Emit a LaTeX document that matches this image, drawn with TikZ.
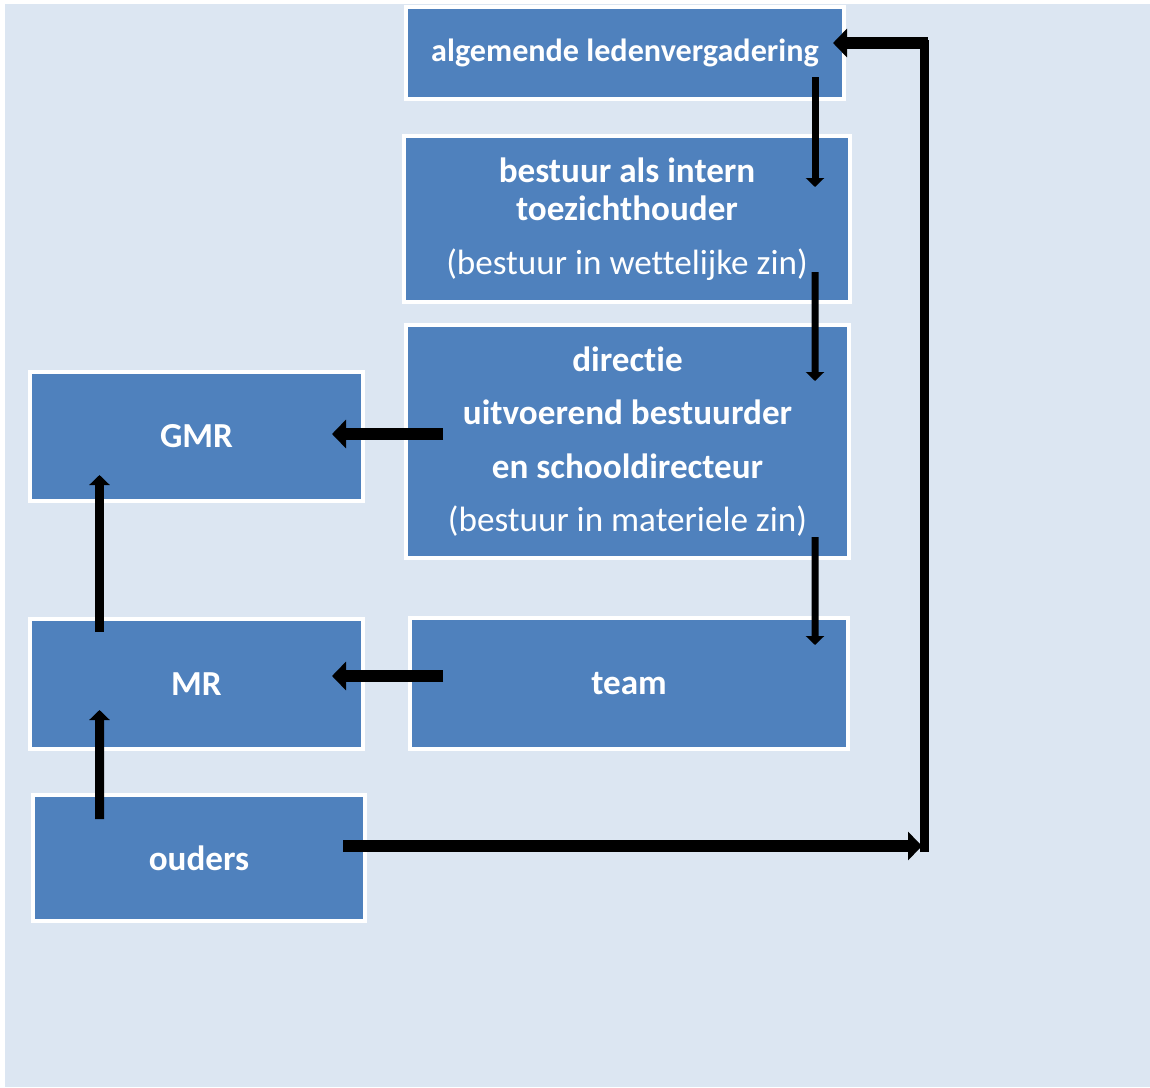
\documentclass[tikz,border=0pt]{standalone}
\usepackage{fontspec}
\setmainfont{Carlito}[Ligatures=NoCommon]
\usetikzlibrary{arrows.meta}
\definecolor{boxblue}{HTML}{4F81BD}
\definecolor{paleblue}{HTML}{DCE6F2}

\begin{document}
\begin{tikzpicture}[x=0.2mm,y=-0.2mm,
    box/.style={draw=white,line width=0.8mm,fill=boxblue,text=white,align=center,
        inner sep=0pt,font=\fontsize{20}{21.5}\selectfont\bfseries},
    bigarrow/.style={line width=2.4mm,-{Triangle[width=5.6mm,length=2.8mm]}},
    smallarrow/.style={line width=1.4mm,-{Triangle[width=3.6mm,length=1.8mm]}},
    uparrow/.style={line width=1.8mm,-{Triangle[width=4mm,length=2mm]}}]
            % Background
            \useasboundingbox (0,0) rectangle (1150,1088);
            \fill[white] (0,0) rectangle (1150,1088);
            \fill[paleblue] (5,4) rectangle (1150,1087);
            % Boxes
            \node[box,minimum width=87.6mm,minimum height=18.4mm,
                font=\fontsize{18.3}{21.5}\selectfont\bfseries] (alv) at (625,53)
                {algemende ledenvergadering};
            \node[box,minimum width=89.2mm,minimum height=33.2mm] (bestuur) at (627,219)
                {bestuur als intern\\toezichthouder\\[9pt]{\mdseries(bestuur in wettelijke zin)}};
            \node[box,minimum width=88.6mm,minimum height=46.6mm,
                font=\fontsize{20}{30.3}\selectfont\bfseries] (directie) at (627.5,441.5)
                {directie\\uitvoerend bestuurder\\en schooldirecteur\\{\mdseries(bestuur in materiele zin)}};
            \node[box,minimum width=66.6mm,minimum height=25.8mm] (gmr) at (196.5,436.5) {GMR};
            \node[box,minimum width=66.6mm,minimum height=26mm] (mr) at (196.5,684) {MR};
            \node[box,minimum width=87.6mm,minimum height=26.2mm] (team) at (629,683.5) {team};
            \node[box,minimum width=66.4mm,minimum height=25.2mm] (ouders) at (199,858) {ouders};
            % Arrows down the right side
            \draw[smallarrow] ([shift={(190,-24)}]alv.south) -- ([shift={(188,53)}]bestuur.north);
            \draw[smallarrow] ([shift={(188,-32)}]bestuur.south) -- ([shift={(187.5,58)}]directie.north);
            \draw[smallarrow] ([shift={(187.5,-23)}]directie.south) -- ([shift={(186,29)}]team.north);
            % Arrows to the left
            \draw[bigarrow] ([shift={(39,-7.5)}]directie.west) -- ([shift={(-33,-2.5)}]gmr.east);
            \draw[bigarrow] ([shift={(35,-7.5)}]team.west) -- ([shift={(-33,-8)}]mr.east);
            \draw[uparrow] ([shift={(-97,15)}]mr.north) -- ([shift={(-97,-28)}]gmr.south);
            \draw[uparrow] ([shift={(-99.5,26)}]ouders.north) -- ([shift={(-97,-41)}]mr.south);
            % Loop from ouders back to the top
            \coordinate (lowcorner) at (922,846);
            \coordinate (topcorner) at (928,43);
            \draw[bigarrow] ([shift={(-24,-12)}]ouders.east) -- (lowcorner);
            \draw[line width=1.8mm] (924.5,852) -- (924.5,40);
            \draw[bigarrow] (topcorner) -- ([shift={(-13,-10)}]alv.east);
\end{tikzpicture}
\end{document}
